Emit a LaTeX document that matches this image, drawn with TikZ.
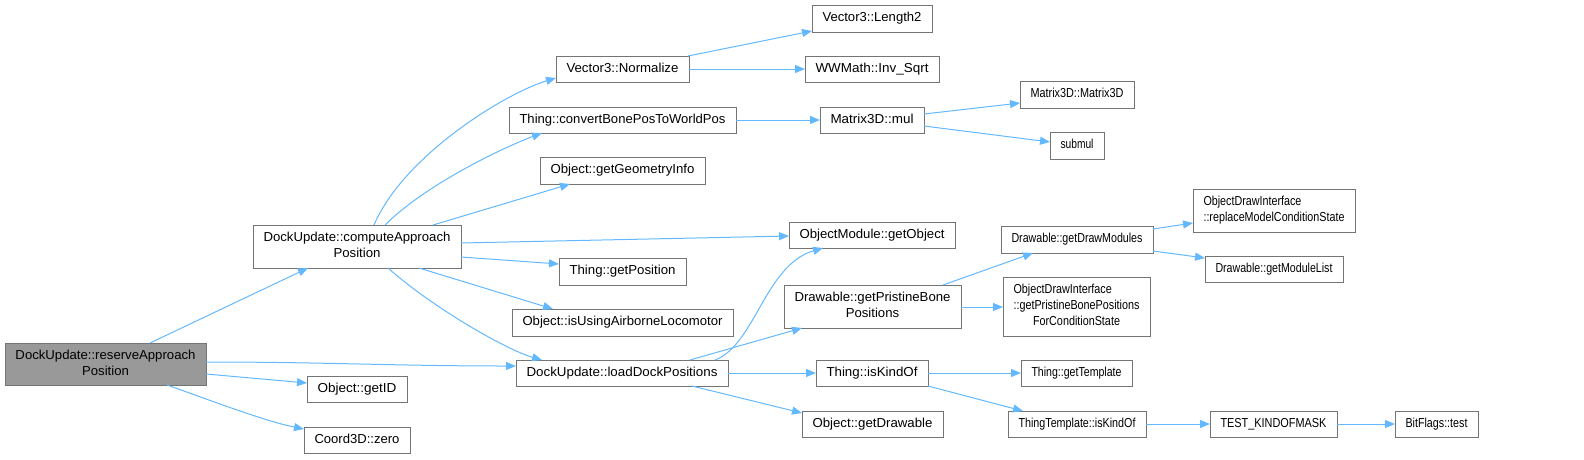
\documentclass[tikz,border=0pt]{standalone}
\usepackage{fontspec}
\usepackage{graphicx}
\setmainfont{Liberation Sans}
\usetikzlibrary{arrows.meta}
\definecolor{edgeblue}{HTML}{63B8FF}
\definecolor{boxline}{HTML}{747474}
\definecolor{rootfill}{HTML}{999999}
\tikzset{
  fnbox/.style={draw=boxline, line width=1pt, fill=white, anchor=north west, inner sep=0pt, outer sep=0pt,
    font=\fontsize{13}{16}\selectfont, align=center, text=black},
  rootbox/.style={fnbox, fill=rootfill},
  edge/.style={draw=edgeblue, line width=1pt, -{Triangle[length=10pt,width=8pt]}},
}
\newcommand\fitw[2]{\resizebox{\dimexpr #1pt-21pt\relax}{\height}{#2}}
\newcommand\fnode[7][fnbox]{%
  \node[#1, minimum width={(#5-#3)*1pt}, minimum height={(#6-#4)*1pt}] (#2) at (#3,#4)
  {\fitw{\numexpr #5-#3\relax}{\begin{tabular}{@{}c@{}}#7\end{tabular}}};}
\begin{document}
\begin{tikzpicture}[x=1pt,y=-1pt]
\useasboundingbox (0,0) rectangle (1584,459);
\fnode[rootbox]{reserve}{5}{343}{206}{385}{DockUpdate::reserveApproach\\Position}
\fnode{compute}{253}{225}{461}{268}{DockUpdate::computeApproach\\Position}
\fnode{getid}{307}{376}{407}{402}{Object::getID}
\fnode{zero}{304}{427}{410}{453}{Coord3D::zero}
\fnode{length2}{812}{5}{932}{32}{Vector3::Length2}
\fnode{normalize}{556}{56}{689}{82}{Vector3::Normalize}
\fnode{invsqrt}{805}{56}{939}{82}{WWMath::Inv\_Sqrt}
\fnode{convert}{509}{107}{736}{133}{Thing::convertBonePosToWorldPos}
\fnode{mul}{820}{107}{924}{133}{Matrix3D::mul}
\fnode{geom}{540}{157}{705}{184}{Object::getGeometryInfo}
\fnode{getobj}{789}{222}{955}{248}{ObjectModule::getObject}
\fnode{getpos}{559}{258}{686}{285}{Thing::getPosition}
\fnode{airborne}{512}{309}{733}{336}{Object::isUsingAirborneLocomotor}
\fnode{load}{516}{360}{728}{386}{DockUpdate::loadDockPositions}
\fnode{pristine}{784}{285}{961}{328}{Drawable::getPristineBone\\Positions}
\fnode{iskind}{816}{360}{928}{386}{Thing::isKindOf}
\fnode{getdrawable}{802}{411}{943}{437}{Object::getDrawable}
\fnode{m3d}{1020}{81}{1134}{108}{Matrix3D::Matrix3D}
\fnode{submul}{1050}{132}{1104}{159}{submul}
\node[fnbox, minimum width=162pt, minimum height=43pt] (odirepl) at (1193,189)
  {\fitw{162}{\begin{tabular}{@{}l@{}}ObjectDrawInterface\\::replaceModelConditionState\end{tabular}}};
\fnode{drawmods}{1001}{226}{1153}{253}{Drawable::getDrawModules}
\fnode{modlist}{1205}{256}{1343}{282}{Drawable::getModuleList}
\node[fnbox, minimum width=147pt, minimum height=59pt] (odipris) at (1003,277)
  {\fitw{147}{\begin{tabular}{@{}l@{}}ObjectDrawInterface\\::getPristineBonePositions\\\multicolumn{1}{@{}c@{}}{ForConditionState}\end{tabular}}};
\fnode{gettempl}{1021}{360}{1132}{386}{Thing::getTemplate}
\fnode{ttkind}{1008}{411}{1146}{437}{ThingTemplate::isKindOf}
\fnode{testmask}{1210}{411}{1337}{437}{TEST\_KINDOFMASK}
\fnode{bitflags}{1395}{411}{1478}{437}{BitFlags::test}

% edges
\draw[edge] ([shift={(145,0)}]reserve.north west) -- ([shift={(55,43)}]compute.north west);
\draw[edge] ([shift={(201,19)}]reserve.north west) .. controls +(120,0) and +(-120,0) .. ([shift={(0,6)}]load.north west);
\draw[edge] ([shift={(201,31)}]reserve.north west) -- ([shift={(0,7)}]getid.north west);
\draw[edge] ([shift={(162,42)}]reserve.north west) .. controls +(40,14) and +(-40,-8) .. ([shift={(0,2)}]zero.north west);
\draw[edge] ([shift={(121,0)}]compute.north west) .. controls +(30,-70) and +(-50,15) .. ([shift={(0,22)}]normalize.north west);
\draw[edge] ([shift={(132,0)}]compute.north west) .. controls +(40,-40) and +(-40,15) .. ([shift={(33,26)}]convert.north west);
\draw[edge] ([shift={(180,0)}]compute.north west) -- ([shift={(30,27)}]geom.north west);
\draw[edge] ([shift={(208,18)}]compute.north west) -- ([shift={(0,14)}]getobj.north west);
\draw[edge] ([shift={(208,32)}]compute.north west) -- ([shift={(0,6)}]getpos.north west);
\draw[edge] ([shift={(166,43)}]compute.north west) -- ([shift={(41,0)}]airborne.north west);
\draw[edge] ([shift={(135,43)}]compute.north west) .. controls +(45,40) and +(-35,-10) .. ([shift={(26,0)}]load.north west);
\draw[edge] ([shift={(132,0)}]normalize.north west) -- ([shift={(0,26)}]length2.north west);
\draw[edge] ([shift={(133,13)}]normalize.north west) -- ([shift={(0,13)}]invsqrt.north west);
\draw[edge] ([shift={(227,13)}]convert.north west) -- ([shift={(0,13)}]mul.north west);
\draw[edge] ([shift={(104,7)}]mul.north west) -- ([shift={(0,22)}]m3d.north west);
\draw[edge] ([shift={(104,19)}]mul.north west) -- ([shift={(0,10)}]submul.north west);
\draw[edge] ([shift={(199,0)}]load.north west) .. controls +(40,-15) and +(-58,17) .. ([shift={(34,26)}]getobj.north west);
\draw[edge] ([shift={(174,0)}]load.north west) -- ([shift={(18,43)}]pristine.north west);
\draw[edge] ([shift={(212,13)}]load.north west) -- ([shift={(0,13)}]iskind.north west);
\draw[edge] ([shift={(176,26)}]load.north west) -- ([shift={(0,2)}]getdrawable.north west);
\draw[edge] ([shift={(159,0)}]pristine.north west) -- ([shift={(32,27)}]drawmods.north west);
\draw[edge] ([shift={(177,22)}]pristine.north west) -- ([shift={(0,30)}]odipris.north west);
\draw[edge] ([shift={(152,3)}]drawmods.north west) -- ([shift={(0,34)}]odirepl.north west);
\draw[edge] ([shift={(152,25)}]drawmods.north west) -- ([shift={(0,2)}]modlist.north west);
\draw[edge] ([shift={(112,13)}]iskind.north west) -- ([shift={(0,13)}]gettempl.north west);
\draw[edge] ([shift={(112,26)}]iskind.north west) -- ([shift={(15,0)}]ttkind.north west);
\draw[edge] ([shift={(138,13)}]ttkind.north west) -- ([shift={(0,13)}]testmask.north west);
\draw[edge] ([shift={(127,13)}]testmask.north west) -- ([shift={(0,13)}]bitflags.north west);
\end{tikzpicture}
\end{document}
